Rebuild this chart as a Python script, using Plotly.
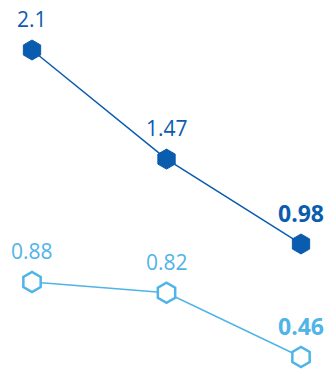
import plotly.graph_objects as go

categories = [0, 1, 2]
series_a = [2.1, 1.47, 0.98]
series_b = [0.88, 0.82, 0.46]
labels_a = ["2.1", "1.47", "<b>0.98</b>"]
labels_b = ["0.88", "0.82", "<b>0.46</b>"]

DARK = "#0a5cae"
LIGHT = "#4fb4e8"

fig = go.Figure()
fig.add_trace(go.Scatter(
    x=categories, y=series_a, mode="lines+markers", yaxis="y",
    line=dict(color=DARK, width=1.5),
    marker=dict(symbol="hexagon", size=20, color=DARK, line=dict(color=DARK, width=1)),
    hoverinfo="skip", showlegend=False))
fig.add_trace(go.Scatter(
    x=categories, y=series_b, mode="lines+markers", yaxis="y2",
    line=dict(color=LIGHT, width=1.5),
    marker=dict(symbol="hexagon", size=20, color="white", line=dict(color=LIGHT, width=2.5)),
    hoverinfo="skip", showlegend=False))

annotations = []
for xs, ys, labs, yref, col in [(categories, series_a, labels_a, "y", DARK),
                                (categories, series_b, labels_b, "y2", LIGHT)]:
    for i, (xv, yv, t) in enumerate(zip(xs, ys, labs)):
        last = i == len(xs) - 1
        annotations.append(dict(
            x=xv, y=yv, xref="x", yref=yref, text=t, showarrow=False,
            xanchor="center", yanchor="middle", yshift=31,
            font=dict(family="Open Sans", size=23 if last else 21, color=col)))

fig.update_layout(
    width=328, height=372,
    margin=dict(l=0, r=0, t=0, b=0),
    paper_bgcolor="white", plot_bgcolor="white",
    xaxis=dict(range=[-0.238, 2.2007], visible=False, fixedrange=True),
    yaxis=dict(range=[0.2409, 2.3887], visible=False, fixedrange=True),
    yaxis2=dict(range=[0.376, 2.459], visible=False, overlaying="y", fixedrange=True),
    annotations=annotations,
)
fig.write_html("out.html", config={"displayModeBar": False})
